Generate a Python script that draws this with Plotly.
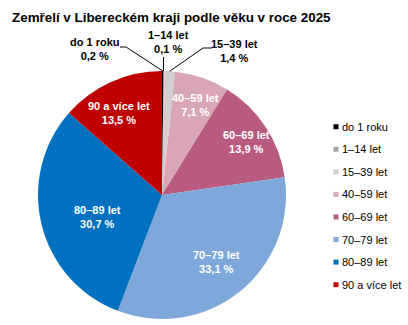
import math
import plotly.graph_objects as go

# Deaths in the Liberec Region by age group, 2025 (share in %)
categories = ["do 1 roku", "1–14 let", "15–39 let", "40–59 let",
              "60–69 let", "70–79 let", "80–89 let", "90 a více let"]
shares = [0.2, 0.1, 1.4, 7.1, 13.9, 33.1, 30.7, 13.5]
colors = ["#000000", "#a5a5a5", "#d0d0d0", "#d9a6b7",
          "#b95b80", "#7ea8da", "#0070c0", "#c00000"]

W, H = 408, 325
# pie geometry in pixels
CX, CY, R = 162, 195, 124
FONT = "Liberation Sans, Arial, sans-serif"


def fmt(v):
    return f"{v:.1f}".replace(".", ",") + " %"


def to_paper(x, y):
    return x / W, 1 - y / H


def edge_point(idx):
    total = sum(shares)
    start = sum(shares[:idx])
    mid = (start + shares[idx] / 2) / total * 2 * math.pi
    return CX + R * math.sin(mid), CY - R * math.cos(mid)


fig = go.Figure()
fig.add_trace(go.Pie(
    labels=categories,
    values=shares,
    textinfo="none",
    marker=dict(colors=colors, line=dict(width=0)),
    sort=False,
    direction="clockwise",
    rotation=0,
    showlegend=False,
    hoverinfo="label+percent",
    domain=dict(x=[(CX - R) / W, (CX + R) / W],
                y=[1 - (CY + R) / H, 1 - (CY - R) / H]),
))

# labels drawn inside the larger slices (anchor in px)
inside_anchor = {3: (195, 105), 4: (247, 141.5), 5: (216, 262),
                 6: (97, 217.5), 7: (119, 113)}
for idx, (tx, ty) in inside_anchor.items():
    px, py = to_paper(tx, ty)
    fig.add_annotation(
        x=px, y=py, xref="paper", yref="paper",
        text=f"<b>{categories[idx]}<br>{fmt(shares[idx])}</b>",
        showarrow=False, align="center", xanchor="center", yanchor="middle",
        font=dict(color="white", size=11, family=FONT),
    )

# outside labels with leader lines for the thin slices
outside = [
    # idx, text anchor (px), elbow points of the leader (px)
    (0, (95, 49), [(120, 47), (126, 47)]),
    (1, (168, 42), [(163.5, 57)]),
    (2, (235, 51.5), [(212, 48), (203, 48)]),
]
for idx, (tx, ty), elbow in outside:
    px, py = to_paper(tx, ty)
    fig.add_annotation(
        x=px, y=py, xref="paper", yref="paper",
        text=f"<b>{categories[idx]}<br>{fmt(shares[idx])}</b>",
        showarrow=False, align="center", xanchor="center", yanchor="middle",
        font=dict(color="black", size=11, family=FONT),
    )
    end = edge_point(idx)
    if idx == 1:
        end = (elbow[0][0], end[1])
    pts = elbow + [end]
    path = "M " + " L ".join(
        "{:.4f},{:.4f}".format(*to_paper(x, y)) for x, y in pts)
    fig.add_shape(type="path", path=path, xref="paper", yref="paper",
                  line=dict(color="black", width=1))

# legend: small colour squares with category names
LEG_X, LEG_Y0, LEG_DY, SQ = 336, 126.7, 22.57, 5
for i, (c, col) in enumerate(zip(categories, colors)):
    yc = LEG_Y0 + i * LEG_DY
    x0, y0 = to_paper(LEG_X - SQ / 2, yc + SQ / 2)
    x1, y1 = to_paper(LEG_X + SQ / 2, yc - SQ / 2)
    fig.add_shape(type="rect", xref="paper", yref="paper",
                  x0=x0, y0=y0, x1=x1, y1=y1,
                  fillcolor=col, line=dict(width=0))
    tx, ty = to_paper(LEG_X + 4, yc)
    fig.add_annotation(
        x=tx, y=ty, xref="paper", yref="paper", text=c,
        showarrow=False, xanchor="left", yanchor="middle",
        font=dict(color="black", size=11, family=FONT),
    )

fig.update_layout(
    width=W, height=H,
    margin=dict(l=0, r=0, t=0, b=0, autoexpand=False),
    paper_bgcolor="white", plot_bgcolor="white",
    font=dict(family=FONT, size=11, color="black"),
    title=dict(text="<b>Zemřelí v Libereckém kraji podle věku v roce 2025</b>",
               x=12 / W, xanchor="left", y=1 - 17 / H, yanchor="middle",
               font=dict(size=13.4, color="black")),
    showlegend=False,
)

fig.write_html("out.html")
